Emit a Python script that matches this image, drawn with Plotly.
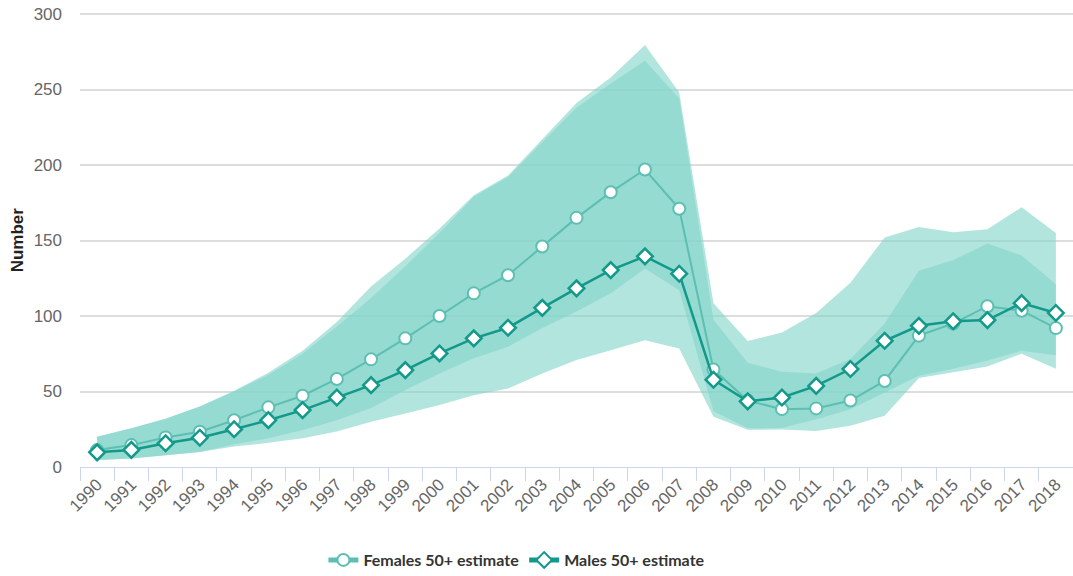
import plotly.graph_objects as go

years = [str(y) for y in range(1990, 2019)]

females_est = [11.2, 14.5, 19.6, 23.4, 31, 39.5, 47.2, 58.3, 71.3, 85.2,
               100, 115, 127, 146, 165, 182, 197, 171, 64.5, 44,
               38.3, 38.8, 44, 57, 87, 95, 106.5, 103.5, 92]
males_est = [9.7, 11.3, 15.7, 19.4, 25, 31, 37.7, 46, 54.2, 64.2,
             75.2, 85.2, 92.2, 105.4, 118.3, 130.4, 139.5, 128, 57.8, 43.5,
             46, 53.7, 64.9, 83.6, 93.5, 96.5, 97.3, 108.5, 102]

females_upper = [20, 25.6, 32, 40, 50.5, 62.5, 77, 96, 119.5, 138,
                 158, 180, 193, 217, 241, 258, 279.5, 248, 108.5, 83.5,
                 89, 102, 122, 152, 159, 155.5, 157.5, 172, 155]
females_lower = [4.6, 5.7, 8, 10, 13.5, 16, 19, 23.5, 30, 35.5,
                 41, 47.6, 52, 62, 70.8, 77.4, 84, 78.5, 33.3, 24.7,
                 24.8, 23.8, 27.3, 34, 59, 63, 66.5, 75, 65]
males_upper = [20, 25.6, 32, 40, 50, 61, 75, 93, 112, 133,
               155, 179, 192, 215, 238, 254, 269, 244, 97.5, 69,
               63, 62, 71.5, 95, 130, 137, 148, 140, 121]
males_lower = [4.6, 5.7, 8, 10, 15, 19, 24.5, 31, 39, 51,
               62, 72, 79.6, 92, 103, 115, 131.5, 117, 37, 25.6,
               25.8, 31.7, 38.3, 49.5, 60.5, 65, 70.5, 77, 74]

y_ticks = [0, 50, 100, 150, 200, 250, 300]

band_color = "rgba(131,213,202,0.62)"
fem_color = "#5cbfb2"
male_color = "#12998a"

fig = go.Figure()

for upper, lower in [(females_upper, females_lower), (males_upper, males_lower)]:
    fig.add_trace(go.Scatter(
        x=years + years[::-1],
        y=upper + lower[::-1],
        fill="toself", fillcolor=band_color,
        line=dict(width=0), mode="lines",
        hoverinfo="skip", showlegend=False,
    ))

fig.add_trace(go.Scatter(
    x=years, y=females_est, name="Females 50+ estimate",
    mode="lines+markers",
    line=dict(color=fem_color, width=2),
    marker=dict(symbol="circle", size=12, color="white",
                line=dict(color=fem_color, width=2)),
))
fig.add_trace(go.Scatter(
    x=years, y=males_est, name="Males 50+ estimate",
    mode="lines+markers",
    line=dict(color=male_color, width=2.5),
    marker=dict(symbol="diamond", size=12, color="white",
                line=dict(color=male_color, width=2.5)),
))

fig.update_layout(
    width=1073, height=576,
    margin=dict(l=80, r=0, t=11, b=109, autoexpand=False),
    paper_bgcolor="white", plot_bgcolor="white",
    font=dict(family="Liberation Sans, Arial, sans-serif", color="#666666"),
    showlegend=True,
    legend=dict(
        orientation="h", x=0.44, xanchor="center", y=-0.204, yanchor="middle",
        font=dict(family="Lato, sans-serif", size=16, color="#333333", weight="bold"),
        itemsizing="constant", itemwidth=30, traceorder="normal",
    ),
    xaxis=dict(
        type="category", showgrid=False, automargin=False,
        showline=True, linecolor="#ccd6eb", linewidth=1,
        ticks="outside", tickson="boundaries", ticklen=13, tickcolor="#ccd6eb",
        tickangle=-45, tickfont=dict(size=17, color="#666666"),
        range=[-0.5, len(years) - 0.5],
    ),
    yaxis=dict(
        range=[0, 302], tickvals=y_ticks, showgrid=True, automargin=False,
        gridcolor="#dddddd", gridwidth=1.5, zeroline=False,
        showline=False, ticks="", ticklabelstandoff=17, ticklabeloverflow="allow",
        tickfont=dict(size=17, color="#666666"),
    ),
    annotations=[dict(
        text="<b>Number</b>", textangle=-90, xref="paper", yref="paper",
        x=-63 / 993, y=0.497, xanchor="center", yanchor="middle", showarrow=False,
        font=dict(family="Liberation Sans, Arial, sans-serif", size=17, color="#222222"),
    )],
)

fig.write_html(
    "out.html",
    config={"displayModeBar": False},
    post_script="document.body.style.margin='0';document.body.style.overflow='hidden';",
)
